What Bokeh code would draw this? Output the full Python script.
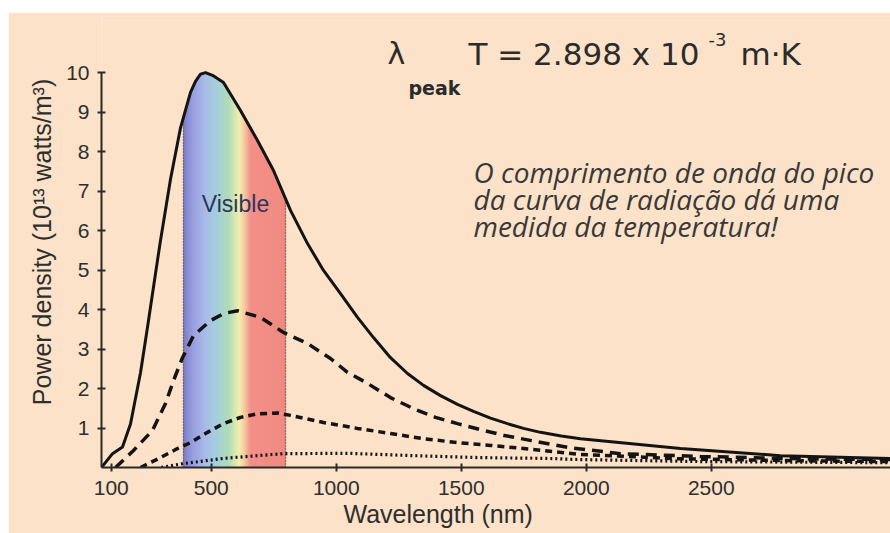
import numpy as np
from bokeh.plotting import figure
from bokeh.models import Range1d, Label, FixedTicker, Title, Spacer
from bokeh.layouts import column, row
from bokeh.embed import file_html
from bokeh.resources import INLINE

# ---------------- data ----------------
# hottest curve (solid)
solid_nm = [61, 105, 145, 177, 217, 245, 285, 297, 337, 377, 417, 437, 457, 477, 505,
            549, 617, 685, 749, 817, 885, 949, 1017, 1085, 1149, 1217, 1285, 1349,
            1417, 1485, 1549, 1617, 1685, 1749, 1817, 1900, 1977, 2377, 2777, 3217]
solid_val = [0.0, 0.35, 0.52, 1.1, 2.4, 3.55, 5.25, 5.75, 7.3, 8.6, 9.5, 9.78, 9.96,
             10.0, 9.93, 9.75, 9.04, 8.28, 7.52, 6.51, 5.67, 4.99, 4.40, 3.80, 3.29,
             2.78, 2.38, 2.08, 1.82, 1.60, 1.42, 1.25, 1.11, 0.99, 0.89, 0.80, 0.73,
             0.48, 0.30, 0.23]

# second curve (long dashes)
dash1_nm = [117, 189, 265, 317, 349, 385, 429, 497, 550, 605, 697, 789, 885, 977, 1045,
            1125, 1217, 1309, 1397, 1485, 1589, 1673, 1781, 1925, 2137, 2457, 2857, 3217]
dash1_val = [0.0, 0.43, 0.94, 1.62, 2.2, 2.78, 3.34, 3.72, 3.9, 3.97, 3.80, 3.42, 3.14,
             2.76, 2.41, 2.13, 1.77, 1.49, 1.27, 1.11, 0.94, 0.81, 0.68, 0.51, 0.35,
             0.28, 0.22, 0.20]

# third curve (short dashes)
dash2_nm = [217, 297, 365, 417, 485, 549, 617, 685, 765, 817, 949, 1085, 1217, 1349,
            1485, 1617, 1749, 1845, 1977, 2377, 2857, 3217]
dash2_val = [0.0, 0.25, 0.48, 0.63, 0.89, 1.11, 1.27, 1.36, 1.38, 1.32, 1.14, 0.99, 0.86,
             0.73, 0.63, 0.56, 0.48, 0.42, 0.33, 0.22, 0.17, 0.15]

# coolest curve (dotted)
dot_nm = [300, 389, 549, 685, 789, 1045, 1309, 1577, 1845, 1977, 2457, 3217]
dot_val = [0.0, 0.10, 0.23, 0.30, 0.35, 0.36, 0.30, 0.25, 0.23, 0.20, 0.15, 0.12]

visible_nm = [389, 797]

x_ticks = [100, 500, 1000, 1500, 2000, 2500]
y_ticks = [1, 2, 3, 4, 5, 6, 7, 8, 9, 10]

# ---------------- styling ----------------
BG = "#fbe2c8"
INK = "#141414"
TXT = "#2e2e2e"

p = figure(width=882, height=521, output_backend="svg", toolbar_location=None,
           x_range=Range1d(61, 3217), y_range=Range1d(0, 11.42),
           min_border_left=93, min_border_right=0, min_border_top=4,
           min_border_bottom=66,
           background_fill_color=BG, border_fill_color=BG, outline_line_color=None)
p.grid.visible = False

# ---------------- visible-band gradient ----------------
stops_f = [0.00, 0.10, 0.22, 0.33, 0.45, 0.55, 0.60, 0.66, 1.00]
stops_c = ["#7c7cc6", "#9aa0e0", "#a8bce8", "#a4d0dc", "#b0dcb8", "#f2f0b0",
           "#f8cca0", "#f29088", "#f08a80"]


def hex2rgb(h):
    return [int(h[i:i + 2], 16) for i in (1, 3, 5)]


stops_rgb = np.array([hex2rgb(c) for c in stops_c], dtype=float)
edges = np.linspace(visible_nm[0], visible_nm[1], 81)
xs, ys, cols = [], [], []
for a, b in zip(edges[:-1], edges[1:]):
    fa = np.interp(a, solid_nm, solid_val)
    fb = np.interp(b, solid_nm, solid_val)
    xs.append([a, b, b, a])
    ys.append([0, 0, fb, fa])
    frac = ((a + b) / 2 - visible_nm[0]) / (visible_nm[1] - visible_nm[0])
    rgb = [np.interp(frac, stops_f, stops_rgb[:, k]) for k in range(3)]
    cols.append("#%02x%02x%02x" % tuple(int(round(v)) for v in rgb))
p.patches(xs, ys, fill_color=cols, line_color=cols, line_width=1)

edge_top = [float(np.interp(v, solid_nm, solid_val)) for v in visible_nm]
p.segment(x0=visible_nm, y0=[0, 0], x1=visible_nm, y1=edge_top,
          line_color="#5a4a4a", line_width=1.5, line_dash="1 2")

# ---------------- curves ----------------
p.line(dot_nm, dot_val, line_color=INK, line_width=3.2, line_dash="2 3")
p.line(dash2_nm, dash2_val, line_color=INK, line_width=3.5, line_dash="7 5")
p.line(dash1_nm, dash1_val, line_color=INK, line_width=3.5, line_dash="11 7")
p.line(solid_nm, solid_val, line_color=INK, line_width=3)

# ---------------- axes ----------------
for ax in (p.xaxis, p.yaxis):
    ax.axis_line_width = 2
    ax.axis_line_color = "#2a2a2a"
    ax.major_tick_line_width = 2
    ax.major_tick_line_color = "#2a2a2a"
    ax.major_tick_in = 4
    ax.major_tick_out = 4
    ax.minor_tick_line_color = None
    ax.major_label_text_font = "Liberation Sans"
    ax.major_label_text_font_size = "21px"
    ax.major_label_text_color = TXT
    ax.major_label_standoff = 8

p.xaxis.ticker = FixedTicker(ticks=x_ticks)
p.yaxis.ticker = FixedTicker(ticks=y_ticks)
p.yaxis.bounds = (0, 10)
p.xaxis.major_label_standoff = 9

p.yaxis.axis_label = "Power density (10¹³ watts/m³)"
p.yaxis.axis_label_text_font = "Liberation Sans"
p.yaxis.axis_label_text_font_size = "25px"
p.yaxis.axis_label_text_font_style = "normal"
p.yaxis.axis_label_text_color = TXT
p.yaxis.axis_label_standoff = 7

# x axis title, placed below the axis and shifted to where the reference has it
p.add_layout(Title(text="Wavelength (nm)", align="left", offset=242, standoff=0,
                   text_font="Liberation Sans", text_font_size="25px",
                   text_font_style="normal", text_color=TXT), "below")

# ---------------- texts ----------------
p.add_layout(Label(x=597, y=6.68, text="Visible", text_align="center",
                   text_baseline="middle", text_font="Liberation Sans",
                   text_font_size="23px", text_color="#2b3658"))

FORM = "#2b2b2b"
p.add_layout(Label(x=1205, y=10.48, text="λ", text_font="DejaVu Sans",
                   text_font_size="30px", text_color=FORM, text_baseline="alphabetic"))
p.add_layout(Label(x=1289, y=9.60, text="peak", text_font="DejaVu Sans",
                   text_font_size="19px", text_font_style="bold", text_color=FORM,
                   text_baseline="alphabetic"))
p.add_layout(Label(x=1529, y=10.46, text="T = 2.898  x 10", text_font="DejaVu Sans",
                   text_font_size="31px", text_color=FORM, text_baseline="alphabetic"))
p.add_layout(Label(x=2489, y=10.84, text="-3", text_font="DejaVu Sans",
                   text_font_size="18px", text_color=FORM, text_baseline="alphabetic"))
p.add_layout(Label(x=2617, y=10.46, text="m·K", text_font="DejaVu Sans",
                   text_font_size="31px", text_color=FORM, text_baseline="alphabetic"))

note_lines = ["O comprimento de onda do pico",
              "da curva de radiação dá uma",
              "medida da temperatura!"]
for line, yv in zip(note_lines, [7.47, 6.81, 6.12]):
    p.add_layout(Label(x=1549, y=yv, text=line, text_font="Open Sans",
                       text_font_size="28px", text_font_style="italic",
                       text_color="#383838", text_baseline="alphabetic"))

layout = column(Spacer(width=890, height=12),
                row(Spacer(width=8, height=521), p))

open("out.html", "w").write(file_html(layout, INLINE))
